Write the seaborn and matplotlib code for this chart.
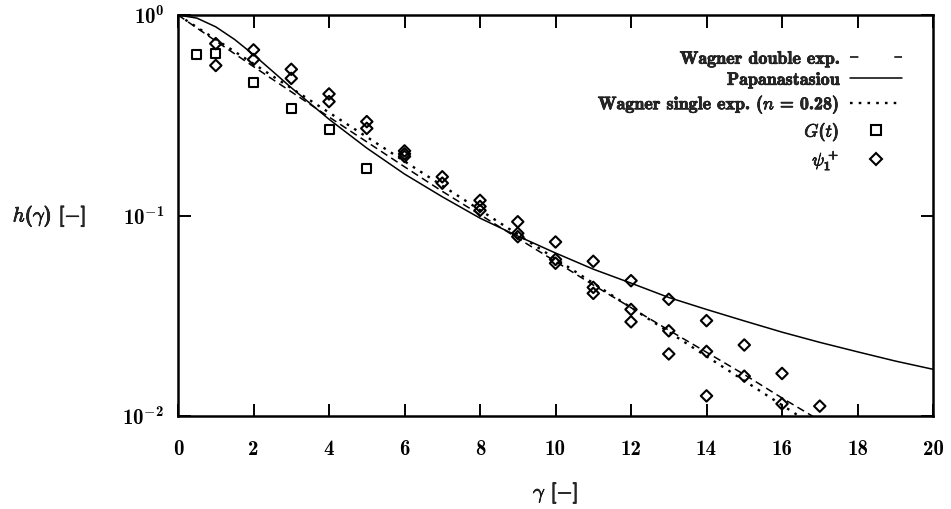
import numpy as np
import pandas as pd
import matplotlib
matplotlib.use("Agg")
import matplotlib.pyplot as plt
import matplotlib.patheffects as pe
from matplotlib.lines import Line2D
import seaborn as sns

# --- model curves -----------------------------------------------------------
# Papanastasiou damping function
gamma_pap = [0, 0.5, 1, 1.5, 2, 2.5, 3, 4, 5, 6, 7, 8, 9, 10, 11, 12, 13, 14,
             15, 16, 17, 18, 19, 20]
h_pap = [1.0, 0.965, 0.873, 0.755, 0.634, 0.525, 0.434, 0.302, 0.217, 0.161,
         0.124, 0.097, 0.079, 0.065, 0.054, 0.046, 0.039, 0.034, 0.0298,
         0.0262, 0.0233, 0.0209, 0.0188, 0.0171]

# Wagner double exponential damping function
gamma_wd = [0, 1, 2, 3, 4, 5, 6, 7, 8, 9, 10, 11, 12, 13, 14, 15, 16, 17]
h_wd = [1.0, 0.742, 0.553, 0.414, 0.310, 0.233, 0.175, 0.132, 0.101, 0.077,
        0.059, 0.045, 0.0347, 0.0268, 0.0208, 0.0161, 0.0123, 0.0095]

# Wagner single exponential damping function, h = exp(-n * gamma)
n_single = 0.28
gamma_ws = np.linspace(0, 20, 201)

# --- measured data ----------------------------------------------------------
gamma_G = [0.5, 1, 2, 3, 4, 5]
h_G = [0.639, 0.64, 0.46, 0.34, 0.269, 0.172]

gamma_psi = [1, 1, 2, 2, 3, 3, 4, 4, 5, 5, 6, 6, 6, 7, 7, 8, 8, 8,
             9, 9, 9, 10, 10, 10, 11, 11, 11, 12, 12, 12, 13, 13, 13,
             14, 14, 14, 15, 15, 16, 16, 17]
h_psi = [0.72, 0.56, 0.67, 0.60, 0.536, 0.483, 0.404, 0.37, 0.294, 0.272,
         0.210, 0.203, 0.197, 0.156, 0.145, 0.119, 0.111, 0.106,
         0.0931, 0.0815, 0.0784, 0.0738, 0.0604, 0.0578,
         0.0591, 0.0438, 0.0409, 0.0473, 0.0340, 0.0295,
         0.0382, 0.0266, 0.0204, 0.0299, 0.0210, 0.0126,
         0.0226, 0.0158, 0.0163, 0.0115, 0.0112]

xticks = [0, 2, 4, 6, 8, 10, 12, 14, 16, 18, 20]
yticks = [1e-2, 1e-1, 1e0]
ytick_labels = [r"$10^{-2}$", r"$10^{-1}$", r"$10^{0}$"]

labels = ["Wagner double exp.", "Papanastasiou",
          r"Wagner single exp. ($n$ = 0.28)", r"$G(t)$", r"$\psi_1^+$"]

# --- style ------------------------------------------------------------------
sns.set_theme(style="ticks")
plt.rcParams["font.family"] = ["cmb10", "DejaVu Serif"]
plt.rcParams["mathtext.fontset"] = "custom"
plt.rcParams["mathtext.rm"] = "cmb10"
plt.rcParams["mathtext.bf"] = "cmb10"
plt.rcParams["mathtext.it"] = "cmmi10"
plt.rcParams["mathtext.fallback"] = "cm"
plt.rcParams["axes.unicode_minus"] = True

bold = [pe.withStroke(linewidth=0.5, foreground="black")]

fig = plt.figure(figsize=(9.51, 5.09), dpi=100)
ax = fig.add_axes([0.1872, 0.1827, 0.7939, 0.7878])

df_wd = pd.DataFrame({"g": gamma_wd, "h": h_wd})
df_pap = pd.DataFrame({"g": gamma_pap, "h": h_pap})
df_ws = pd.DataFrame({"g": gamma_ws, "h": np.exp(-n_single * gamma_ws)})
df_G = pd.DataFrame({"g": gamma_G, "h": h_G})
df_psi = pd.DataFrame({"g": gamma_psi, "h": h_psi})

lw = 1.1
sns.lineplot(data=df_wd, x="g", y="h", ax=ax, color="black", lw=lw,
             sort=False, linestyle=(0, (5, 3)))
sns.lineplot(data=df_pap, x="g", y="h", ax=ax, color="black", lw=lw,
             sort=False)
sns.lineplot(data=df_ws, x="g", y="h", ax=ax, color="black", lw=1.7,
             sort=False, linestyle=(0, (1.1, 2.6)))
sns.scatterplot(data=df_G, x="g", y="h", ax=ax, marker="s", s=42,
                facecolor="none", edgecolor="black", linewidth=1.5)
sns.scatterplot(data=df_psi, x="g", y="h", ax=ax, marker="D", s=34,
                facecolor="none", edgecolor="black", linewidth=1.5)

ax.set_yscale("log")
ax.set_xlim(0, 20)
ax.set_ylim(1e-2, 1e0)
ax.set_xticks(xticks)
ax.set_xticklabels([str(t) for t in xticks], fontsize=15)
ax.set_yticks(yticks)
ax.set_yticklabels(ytick_labels, fontsize=15)
ax.yaxis.set_minor_locator(matplotlib.ticker.NullLocator())
ax.xaxis.set_ticks_position("both")
ax.yaxis.set_ticks_position("both")
ax.tick_params(axis="both", which="major", direction="in", length=9,
               width=1.4, colors="black")
ax.tick_params(axis="x", pad=17)
ax.tick_params(axis="y", pad=10)
for sp in ax.spines.values():
    sp.set_linewidth(1.8)
    sp.set_color("black")

ax.set_xlabel(r"$\gamma$ [$-$]", fontsize=15)
ax.xaxis.set_label_coords(0.5, -0.19)
ax.xaxis.label.set_va("center")
ax.set_ylabel(r"$h(\gamma)$ [$-$]", fontsize=15, rotation=0)
ax.yaxis.set_label_coords(-0.219, 0.5)
ax.yaxis.label.set_ha("left")
ax.yaxis.label.set_va("center")
ax.xaxis.label.set_path_effects(bold)
ax.yaxis.label.set_path_effects(bold)

# key: labels right-aligned, samples to the right of them
handles = [
    Line2D([], [], color="black", lw=lw, linestyle=(0, (5.5, 23.5))),
    Line2D([], [], color="black", lw=lw),
    Line2D([], [], color="black", lw=1.7, linestyle=(0, (1.1, 2.6))),
    Line2D([], [], color="black", lw=0, marker="s", markersize=6.5,
           markerfacecolor="none", markeredgewidth=1.5),
    Line2D([], [], color="black", lw=0, marker="D", markersize=5.8,
           markerfacecolor="none", markeredgewidth=1.5),
]
leg = ax.legend(handles, labels, loc="upper right", markerfirst=False,
                frameon=False, fontsize=13, handlelength=2.85,
                handletextpad=0.6, labelspacing=0.3, borderaxespad=0.0,
                bbox_to_anchor=(0.968, 0.928))
for t in leg.get_texts():
    t.set_path_effects(bold)

fig.savefig("out.png", dpi=100)
